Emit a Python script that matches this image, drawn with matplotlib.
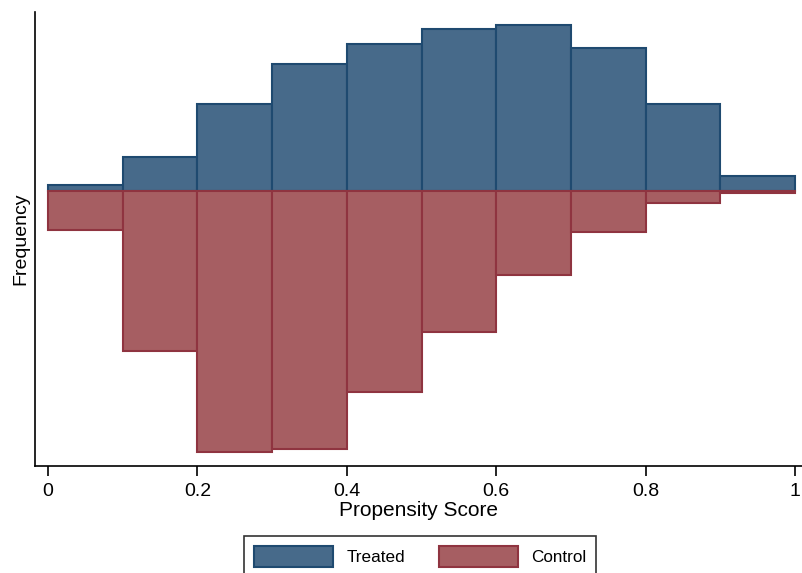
import numpy as np
import matplotlib.pyplot as plt
from matplotlib.patches import Patch

plt.rcParams['font.family'] = ['Liberation Sans', 'DejaVu Sans']

# propensity score bins
bin_left = np.arange(0, 1.0, 0.1)
bin_width = 0.1

# frequency per bin
treated = [6, 34.5, 87, 127.5, 147.5, 162.5, 166.5, 143, 87, 15.5]
control = [38.5, 159.5, 260.5, 257.5, 200.5, 140.5, 83.5, 41, 12, 2]

blue_fill, blue_edge = '#476a8a', '#1f4a70'
red_fill, red_edge = '#a65e62', '#8f3440'

fig = plt.figure(figsize=(8.03, 5.73), dpi=100)
ax = fig.add_axes([35/803, 1-466/573, 1-35/803, (466-12)/573])

ax.bar(bin_left, treated, width=bin_width, align='edge',
       color=blue_fill, edgecolor=blue_edge, linewidth=1.5, zorder=2)
ax.bar(bin_left, -np.array(control), width=bin_width, align='edge',
       color=red_fill, edgecolor=red_edge, linewidth=1.5, zorder=2)

ax.set_xlim(-13/747, 1 + 8/747)
ax.set_ylim(-274.5, 179.5)

ax.spines['top'].set_visible(False)
ax.spines['right'].set_visible(False)
ax.spines['left'].set_linewidth(1.2)
ax.spines['bottom'].set_linewidth(1.2)

ax.set_xticks([0, 0.2, 0.4, 0.6, 0.8, 1])
ax.set_xticklabels(['0', '0.2', '0.4', '0.6', '0.8', '1'])
ax.tick_params(axis='x', direction='out', length=7, width=1.2, labelsize=14, pad=5)
ax.set_yticks([])

ax.set_xlabel('Propensity Score', fontsize=15, labelpad=1)
ax.set_ylabel('Frequency', fontsize=14, labelpad=4)

# legend box runs off the bottom edge
handles = [Patch(facecolor=blue_fill, edgecolor=blue_edge, linewidth=1.5),
           Patch(facecolor=red_fill, edgecolor=red_edge, linewidth=1.5)]
leg = fig.legend(handles, ['Treated', 'Control'], ncol=2,
                 loc='upper left', bbox_to_anchor=(244/803, 1-536/573),
                 fontsize=12.3, frameon=True, fancybox=False,
                 handlelength=4.6, handleheight=1.45, columnspacing=2.0,
                 borderpad=0.6, borderaxespad=0, handletextpad=0.78)
leg.get_frame().set_edgecolor('black')
leg.get_frame().set_linewidth(1.2)

fig.savefig('out.png', dpi=100)
